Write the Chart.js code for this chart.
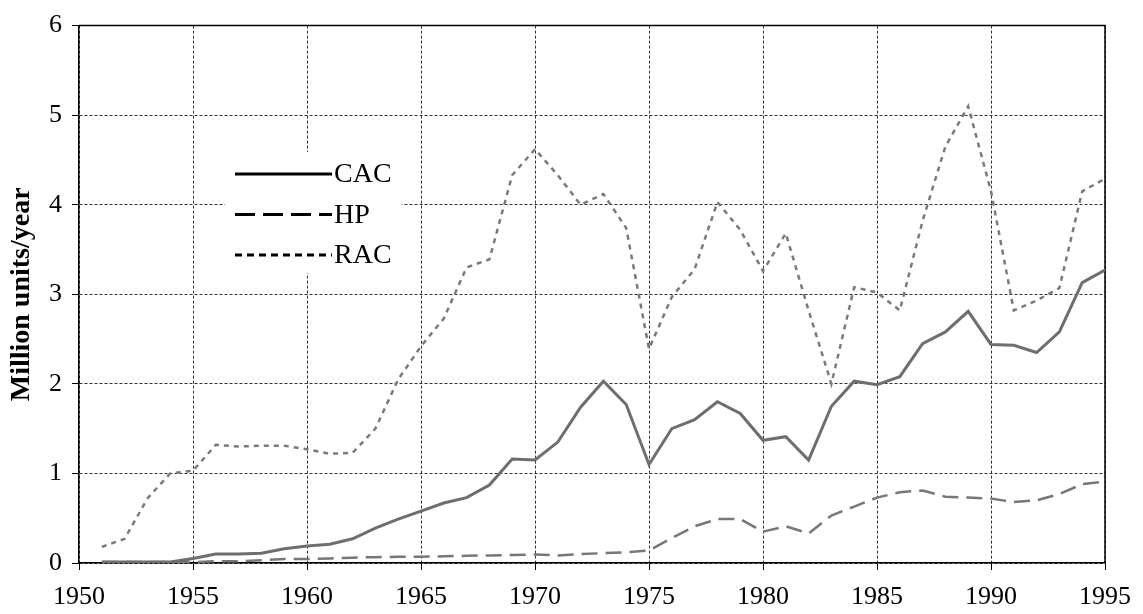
<!DOCTYPE html>
<html>
<head>
<meta charset="utf-8">
<script src="https://cdn.jsdelivr.net/npm/chart.js@4.4.1/dist/chart.umd.min.js"></script>
<style>
  html, body { margin: 0; padding: 0; background: #fff; }
  #unitsChart { display: block; }
</style>
</head>
<body>
<canvas id="unitsChart" width="1143" height="614"></canvas>
<script>
/* ================= DATA ================= */
const years = [1951,1952,1953,1954,1955,1956,1957,1958,1959,1960,
               1961,1962,1963,1964,1965,1966,1967,1968,1969,1970,
               1971,1972,1973,1974,1975,1976,1977,1978,1979,1980,
               1981,1982,1983,1984,1985,1986,1987,1988,1989,1990,
               1991,1992,1993,1994,1995];

const cac = [0.01,0.01,0.01,0.01,0.05,0.10,0.10,0.11,0.16,0.19,
             0.21,0.27,0.39,0.49,0.58,0.67,0.73,0.87,1.16,1.15,
             1.35,1.74,2.03,1.77,1.10,1.50,1.60,1.80,1.67,1.37,
             1.41,1.15,1.75,2.03,1.99,2.08,2.45,2.58,2.81,2.44,
             2.43,2.35,2.58,3.13,3.27];

const hp = [0.01,0.01,0.01,0.01,0.01,0.02,0.02,0.03,0.045,0.045,
            0.05,0.06,0.065,0.07,0.07,0.075,0.08,0.085,0.09,0.095,
            0.085,0.10,0.11,0.12,0.14,0.28,0.41,0.49,0.49,0.35,
            0.41,0.33,0.53,0.63,0.73,0.79,0.81,0.74,0.73,0.72,
            0.68,0.70,0.77,0.88,0.91];

const rac = [0.18,0.27,0.72,1.00,1.03,1.32,1.30,1.31,1.31,1.27,
             1.22,1.23,1.50,2.05,2.42,2.73,3.30,3.39,4.33,4.62,
             4.33,4.00,4.12,3.74,2.39,2.97,3.28,4.03,3.72,3.26,
             3.68,2.82,2.00,3.08,3.02,2.82,3.82,4.65,5.10,4.15,
             2.82,2.93,3.07,4.15,4.29];

const seriesNames = ['CAC', 'HP', 'RAC'];
const yearMin = 1950, yearMax = 1995, yearStep = 5;
const valueMin = 0, valueMax = 6, valueStep = 1;
const yTitle = 'Million units/year';

const toPoints = vals => years.map((yr, i) => ({ x: yr, y: vals[i] }));

const serif = '"Liberation Serif", "Times New Roman", serif';

/* ================= FRAME (top/right box) ================= */
const framePlugin = {
  id: 'frame',
  beforeDatasetsDraw(chart) {
    const { ctx, chartArea: a } = chart;
    ctx.save();
    ctx.strokeStyle = '#000';
    ctx.lineWidth = 1.5;
    ctx.beginPath();
    ctx.moveTo(a.left, a.top);
    ctx.lineTo(a.right, a.top);
    ctx.lineTo(a.right, a.bottom);
    ctx.stroke();
    ctx.restore();
  }
};

/* ================= LEGEND (inside plot) ================= */
const legendDashes = [[], [20, 8], [7, 5]];
const legendPlugin = {
  id: 'insideLegend',
  afterDraw(chart) {
    const { ctx } = chart;
    ctx.save();
    ctx.fillStyle = '#fff';
    ctx.fillRect(225, 152, 177, 121);
    chart.data.datasets.forEach((ds, i) => {
      const y = 174 + i * 40.5;
      ctx.strokeStyle = '#000';
      ctx.lineWidth = 3;
      ctx.setLineDash(legendDashes[i]);
      ctx.beginPath();
      ctx.moveTo(235, y);
      ctx.lineTo(332, y);
      ctx.stroke();
      ctx.setLineDash([]);
      ctx.fillStyle = '#000';
      ctx.font = '28px ' + serif;
      ctx.textBaseline = 'middle';
      ctx.textAlign = 'left';
      ctx.fillText(ds.label, 334, y + 1);
    });
    ctx.restore();
  }
};

/* ================= CHART ================= */
const unitsChart = new Chart(
  document.getElementById('unitsChart'),
  {
    type: 'line',
    data: {
      datasets: [
        {
          label: seriesNames[0],
          data: toPoints(cac),
          borderColor: '#6e6e6e',
          borderWidth: 3,
          pointRadius: 0,
          tension: 0
        },
        {
          label: seriesNames[1],
          data: toPoints(hp),
          borderColor: '#777',
          borderWidth: 2.5,
          borderDash: [16, 8],
          pointRadius: 0,
          tension: 0
        },
        {
          label: seriesNames[2],
          data: toPoints(rac),
          borderColor: '#7a7a7a',
          borderWidth: 2.5,
          borderDash: [5, 5],
          pointRadius: 0,
          tension: 0
        }
      ]
    },
    options: {
      responsive: false,
      animation: false,
      layout: { padding: { top: 12, right: 33, left: 0, bottom: 0 } },
      plugins: {
        legend: { display: false },
        tooltip: { enabled: false }
      },
      scales: {
        x: {
          type: 'linear',
          min: yearMin,
          max: yearMax,
          afterFit: s => { s.height = 51; },
          ticks: {
            stepSize: yearStep,
            padding: 12,
            color: '#000',
            font: { family: serif, size: 26 },
            callback: v => String(v)
          },
          grid: {
            color: '#333',
            lineWidth: 1,
            tickLength: 7,
            tickColor: '#000'
          },
          border: { color: '#000', width: 1.5, dash: [3, 2] }
        },
        y: {
          min: valueMin,
          max: valueMax,
          afterFit: s => { s.width = 79; },
          ticks: {
            stepSize: valueStep,
            padding: 10,
            color: '#000',
            font: { family: serif, size: 26 }
          },
          grid: {
            color: '#333',
            lineWidth: 1,
            tickLength: 7,
            tickColor: '#000'
          },
          border: { color: '#000', width: 1.5, dash: [3, 2] },
          title: {
            display: true,
            text: yTitle,
            color: '#000',
            font: { family: serif, size: 28, weight: 'bold' },
            padding: { top: 5, bottom: 0 }
          }
        }
      }
    },
    plugins: [framePlugin, legendPlugin]
  }
);
</script>
</body>
</html>
